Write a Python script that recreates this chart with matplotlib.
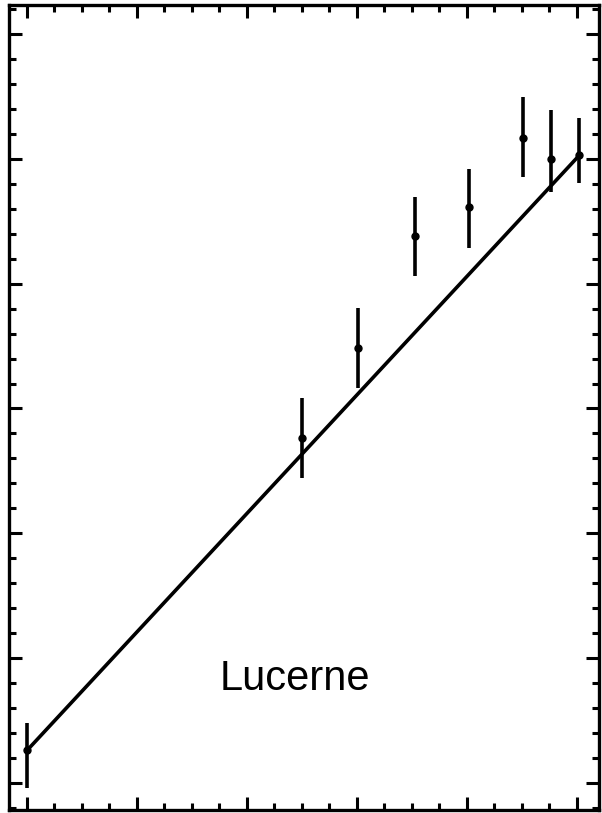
import matplotlib
matplotlib.use("Agg")
import matplotlib.pyplot as plt
from matplotlib.ticker import MultipleLocator, NullFormatter
import numpy as np

# Data (in tick units)
x_vals = [0, 10.0, 12.03, 14.12, 16.09, 18.05, 19.06, 20.08]
y_vals = [1.32, 13.82, 17.42, 21.91, 23.07, 25.83, 24.99, 25.15]
y_upper = [2.40, 15.42, 19.02, 23.47, 24.59, 27.47, 26.95, 26.63]
y_lower = [-0.20, 12.21, 15.82, 20.30, 21.42, 24.28, 23.67, 24.03]

fit_intercept = 1.30
fit_slope = 1.187
fit_x = [0, 20.1]

label_text = "Lucerne"

W, H = 602, 813
fig = plt.figure(figsize=(W / 100, H / 100), dpi=100)
ax = fig.add_axes([9 / W, 3 / H, (599 - 9) / W, 805 / H])

x = np.array(x_vals)
y = np.array(y_vals)
err = np.vstack([y - np.array(y_lower), np.array(y_upper) - y])

ax.errorbar(x, y, yerr=err, fmt='o', color='black', ms=5,
            elinewidth=2.6, capsize=0, zorder=3)

fx = np.array(fit_x)
ax.plot(fx, fit_intercept + fit_slope * fx, color='black', lw=2.6, zorder=2)

ax.text(9.73, 3.72, label_text, ha='center', va='baseline',
        fontsize=30, family=['Liberation Sans', 'DejaVu Sans'])

ax.set_xlim(-0.65, 20.8)
ax.set_ylim(-1.08, 31.16)

ax.xaxis.set_major_locator(MultipleLocator(4))
ax.xaxis.set_minor_locator(MultipleLocator(1))
ax.yaxis.set_major_locator(MultipleLocator(5))
ax.yaxis.set_minor_locator(MultipleLocator(1))
ax.xaxis.set_major_formatter(NullFormatter())
ax.yaxis.set_major_formatter(NullFormatter())

ax.tick_params(which='both', direction='in', top=True, right=True,
               bottom=True, left=True, width=2.2, color='black')
ax.tick_params(which='major', length=9.5)
ax.tick_params(which='minor', length=4.8)

for s in ax.spines.values():
    s.set_linewidth(2.4)
    s.set_color('black')

fig.savefig("out.png", dpi=100, facecolor='white')
